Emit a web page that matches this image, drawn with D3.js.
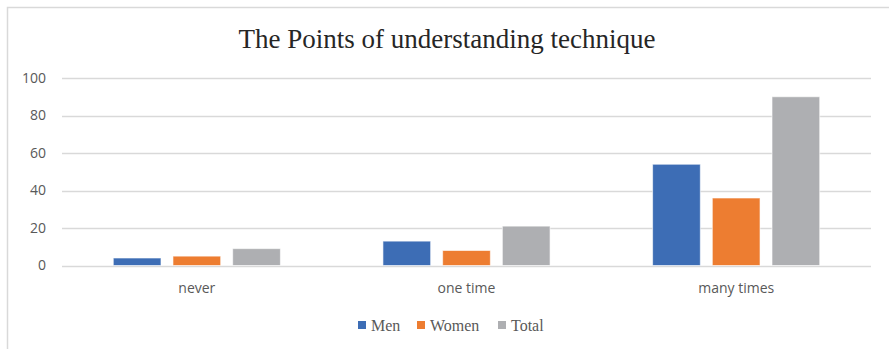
<!DOCTYPE html>
<html>
<head>
<meta charset="utf-8">
<script src="https://cdn.jsdelivr.net/npm/d3@7"></script>
<style>
  html, body { margin: 0; padding: 0; background: #fff; }
  svg { display: block; }
</style>
</head>
<body>
<svg id="chart" width="889" height="349"></svg>
<script>
// Survey answers per category
const categories = ["never", "one time", "many times"];
const seriesNames = ["Men", "Women", "Total"];
const menValues = [4, 13, 54];
const womenValues = [5, 8, 36];
const totalValues = [9, 21, 90];
const yTicks = [0, 20, 40, 60, 80, 100];
const colors = ["#3d6db5", "#ed7d31", "#aeafb2"];

const seriesValues = [menValues, womenValues, totalValues];
const rows = categories.map((c, i) => ({
  category: c,
  values: seriesNames.map((s, k) => ({ series: s, value: seriesValues[k][i], color: colors[k] }))
}));

const svg = d3.select("#chart");
const W = 889, H = 349;
const plot = { left: 62, right: 871, top: 78, bottom: 265.5 };

// Outer chart border (left and top edges visible)
svg.append("path")
  .attr("d", `M7.5,${H} V7.5 H${W}`)
  .attr("fill", "none")
  .attr("stroke", "#d9d9d9")
  .attr("stroke-width", 1.5);

// Title
svg.append("text")
  .attr("x", 447)
  .attr("y", 48)
  .attr("text-anchor", "middle")
  .attr("font-family", "'Liberation Serif', 'Times New Roman', serif")
  .attr("font-size", 27)
  .attr("fill", "#262626")
  .text("The Points of understanding technique");

const x0 = d3.scaleBand().domain(categories).range([plot.left, plot.right]).paddingInner(0).paddingOuter(0);
const y = d3.scaleLinear().domain([0, 100]).range([plot.bottom, plot.top]);

// Gridlines
svg.append("g")
  .selectAll("line")
  .data(yTicks)
  .join("line")
  .attr("x1", plot.left)
  .attr("x2", plot.right)
  .attr("y1", d => Math.round(y(d)) + 0.5)
  .attr("y2", d => Math.round(y(d)) + 0.5)
  .attr("stroke", "#d9d9d9")
  .attr("stroke-width", 1.5);

// Y axis labels
const yAxis = d3.axisLeft(y).tickValues(yTicks).tickSize(0).tickPadding(0);
const gy = svg.append("g").attr("transform", `translate(46,0)`).call(yAxis);
gy.select(".domain").remove();
gy.selectAll("text")
  .attr("font-family", "'Open Sans', 'Liberation Sans', sans-serif")
  .attr("font-size", 14)
  .attr("fill", "#595959");

// Bars: 3 per group, centred in each band
const barW = 47.7, gap = 12;
const groupW = barW * 3 + gap * 2;
const x1 = d3.scaleBand().domain(seriesNames).range([0, groupW]).paddingInner(gap / (barW + gap)).paddingOuter(0);

const groups = svg.append("g")
  .selectAll("g")
  .data(rows)
  .join("g")
  .attr("transform", d => `translate(${x0(d.category) + (x0.bandwidth() - groupW) / 2},0)`);

groups.selectAll("rect")
  .data(d => d.values)
  .join("rect")
  .attr("x", d => x1(d.series))
  .attr("width", x1.bandwidth())
  .attr("y", d => y(d.value))
  .attr("height", d => y(0) - y(d.value))
  .attr("fill", d => d.color)
  .attr("stroke", "#ffffff")
  .attr("stroke-opacity", 0.6)
  .attr("stroke-width", 1);

// X axis labels
const xAxis = d3.axisBottom(x0).tickSize(0).tickPadding(0);
const gx = svg.append("g").attr("transform", `translate(0,${plot.bottom + 18})`).call(xAxis);
gx.select(".domain").remove();
gx.selectAll("text")
  .attr("font-family", "'Open Sans', 'Liberation Sans', sans-serif")
  .attr("font-size", 14)
  .attr("fill", "#595959");

// Legend
const legendX = [358, 417, 498];
const legend = svg.append("g")
  .selectAll("g")
  .data(seriesNames)
  .join("g")
  .attr("transform", (d, i) => `translate(${legendX[i]},321)`);
legend.append("rect")
  .attr("width", 8).attr("height", 8)
  .attr("fill", (d, i) => colors[i]);
legend.append("text")
  .attr("x", 13)
  .attr("y", 10)
  .attr("font-family", "'Liberation Serif', 'Times New Roman', serif")
  .attr("font-size", 16)
  .attr("fill", "#595959")
  .text(d => d);
</script>
</body>
</html>
